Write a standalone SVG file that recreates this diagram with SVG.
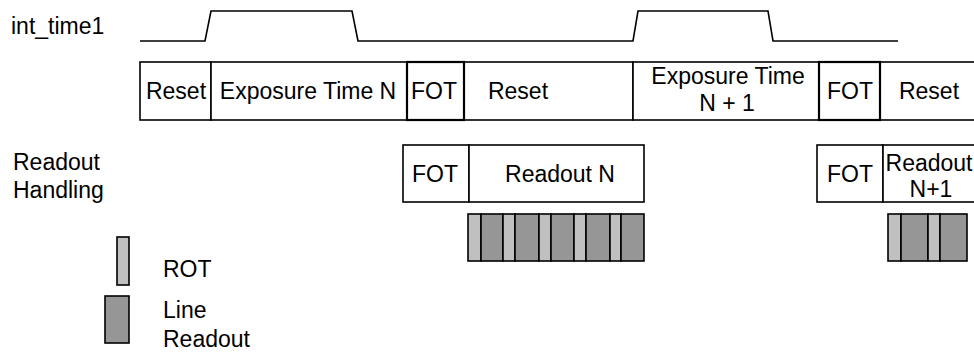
<svg xmlns="http://www.w3.org/2000/svg" width="974" height="352" viewBox="0 0 974 352">
<style>
text{font-family:"Liberation Sans",Arial,sans-serif;font-size:23px;fill:#000}
.c{text-anchor:middle}
.box{fill:#fff;stroke:#000;stroke-width:1.6}
.thick{fill:#fff;stroke:#000;stroke-width:2.2}
.rot{fill:#c0c0c0;stroke:#000;stroke-width:1.6}
.line{fill:#969696;stroke:#000;stroke-width:1.6}
.wave{fill:none;stroke:#000;stroke-width:1.6}
</style>
<rect width="974" height="352" fill="#fff"/>
<g id="signal">
<text x="11" y="34">int_time1</text>
<polyline class="wave" points="140,41 205,41 211,11 352,11 358,41 633,41 638,11 768,11 773,41 898,41"/>
</g>
<g id="sensor-row">
<g id="reset1"><rect class="box" x="140" y="62" width="71" height="58"/><text class="c" x="176" y="99">Reset</text></g>
<g id="exposureN"><rect class="box" x="211" y="62" width="196" height="58"/><text class="c" x="308" y="99">Exposure Time N</text></g>
<g id="reset2"><rect class="box" x="464" y="62" width="169" height="58"/><text class="c" x="518" y="99">Reset</text></g>
<g id="exposureN1"><rect class="box" x="633" y="62" width="186" height="58"/><text class="c" x="728" y="84">Exposure Time</text><text class="c" x="727" y="111">N + 1</text></g>
<g id="reset3"><rect class="box" x="880" y="62" width="100" height="58"/><text class="c" x="929" y="99">Reset</text></g>
<g id="fot1"><rect class="thick" x="407" y="62" width="57" height="58"/><text class="c" x="434" y="99">FOT</text></g>
<g id="fot2"><rect class="thick" x="819" y="62" width="61" height="58"/><text class="c" x="850" y="99">FOT</text></g>
</g>
<g id="readout-handling">
<text x="13" y="170">Readout</text>
<text x="13" y="198">Handling</text>
<g id="fotR1"><rect class="box" x="403" y="145" width="66" height="57"/><text class="c" x="435" y="182">FOT</text></g>
<g id="readoutN"><rect class="box" x="469" y="145" width="175" height="57"/><text class="c" x="560" y="182">Readout N</text></g>
<g id="fotR2"><rect class="box" x="817" y="145" width="66" height="57"/><text class="c" x="850" y="182">FOT</text></g>
<g id="readoutN1"><rect class="box" x="883" y="145" width="100" height="57"/><text class="c" x="929" y="171">Readout</text><text class="c" x="931" y="197">N+1</text></g>
</g>
<g id="lines-N">
<rect class="rot" x="468" y="214" width="13" height="47"/>
<rect class="line" x="481" y="214" width="22" height="47"/>
<rect class="rot" x="503" y="214" width="12" height="47"/>
<rect class="line" x="515" y="214" width="24" height="47"/>
<rect class="rot" x="539" y="214" width="12" height="47"/>
<rect class="line" x="551" y="214" width="23" height="47"/>
<rect class="rot" x="574" y="214" width="12" height="47"/>
<rect class="line" x="586" y="214" width="24" height="47"/>
<rect class="rot" x="610" y="214" width="11" height="47"/>
<rect class="line" x="621" y="214" width="23" height="47"/>
</g>
<g id="lines-N1">
<rect class="rot" x="888" y="214" width="13" height="47"/>
<rect class="line" x="901" y="214" width="27" height="47"/>
<rect class="rot" x="928" y="214" width="12" height="47"/>
<rect class="line" x="940" y="214" width="27" height="47"/>
</g>
<g id="legend">
<rect class="rot" x="117" y="237" width="12" height="48"/>
<text x="163" y="277">ROT</text>
<rect class="line" x="105" y="296" width="24" height="47"/>
<text x="163" y="318">Line</text>
<text x="163" y="347">Readout</text>
</g>
</svg>
